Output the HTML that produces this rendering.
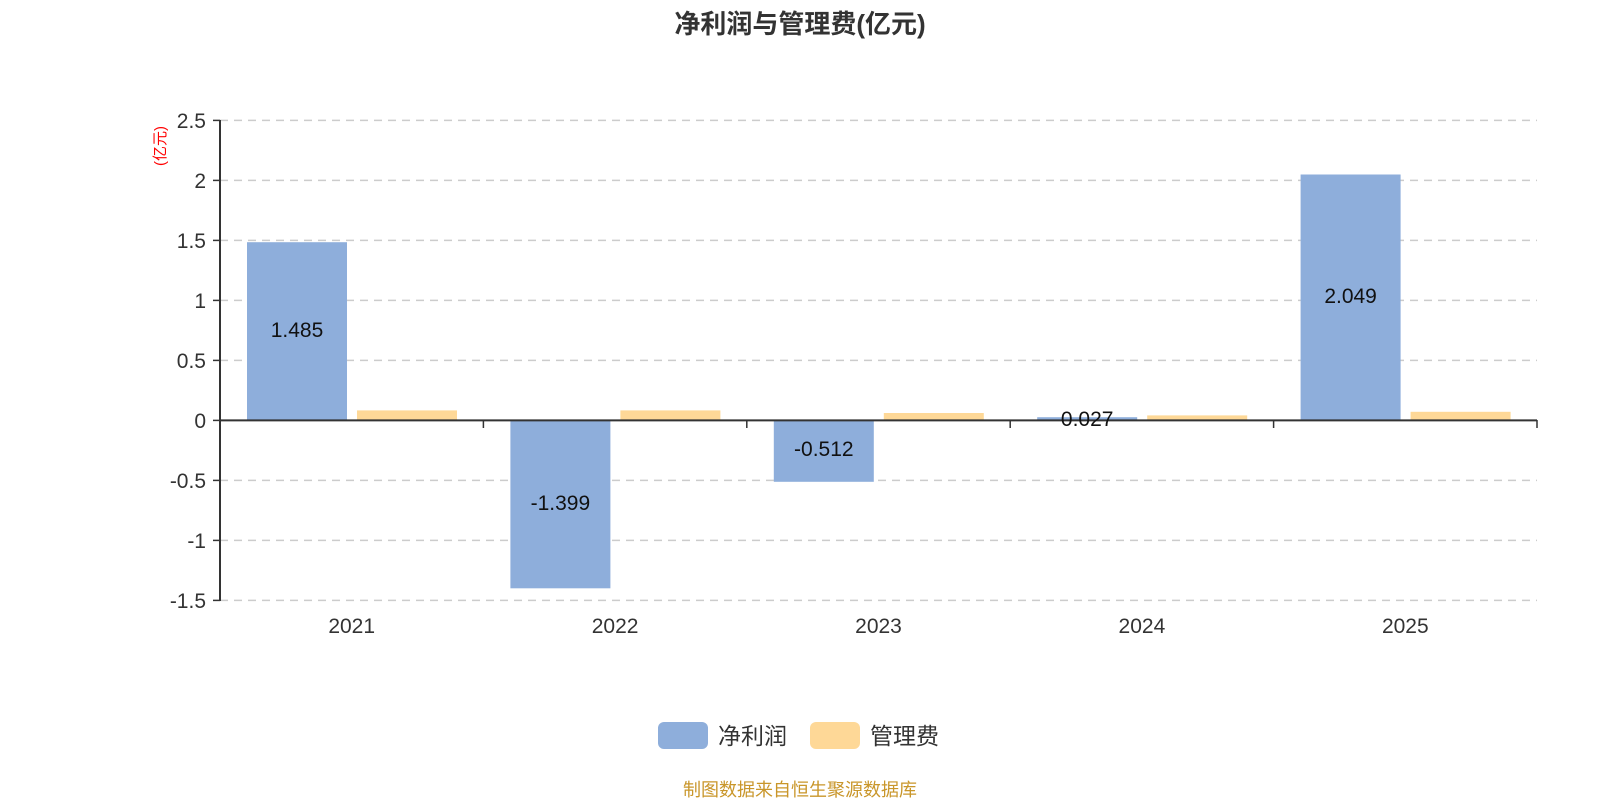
<!DOCTYPE html>
<html><head><meta charset="utf-8"><style>html,body{margin:0;padding:0;background:#fff}svg{display:block}</style></head><body>
<svg width="1600" height="800" xmlns="http://www.w3.org/2000/svg" font-family="'Liberation Sans','Noto Sans CJK SC',sans-serif">
<text x="800" y="33" text-anchor="middle" font-size="26" font-weight="bold" fill="#333">净利润与管理费(亿元)</text>
<g stroke="#ccc" stroke-width="1.5" stroke-dasharray="8,6">
<line x1="220" y1="120.4" x2="1537" y2="120.4"/><line x1="220" y1="180.4" x2="1537" y2="180.4"/><line x1="220" y1="240.4" x2="1537" y2="240.4"/><line x1="220" y1="300.4" x2="1537" y2="300.4"/><line x1="220" y1="360.4" x2="1537" y2="360.4"/><line x1="220" y1="480.4" x2="1537" y2="480.4"/><line x1="220" y1="540.4" x2="1537" y2="540.4"/><line x1="220" y1="600.4" x2="1537" y2="600.4"/>
</g>
<g fill="#8eaedb">
<rect x="247" y="242.2" width="100" height="178.2"/>
<rect x="510.4" y="420.4" width="100" height="167.9"/>
<rect x="773.8" y="420.4" width="100" height="61.4"/>
<rect x="1037.2" y="417.2" width="100" height="3.2"/>
<rect x="1300.6" y="174.5" width="100" height="245.9"/>
</g>
<g fill="#fed897">
<rect x="357" y="410.4" width="100" height="10"/>
<rect x="620.4" y="410.4" width="100" height="10"/>
<rect x="883.8" y="413" width="100" height="7.4"/>
<rect x="1147.2" y="415.4" width="100" height="5"/>
<rect x="1410.6" y="411.8" width="100" height="8.6"/>
</g>
<g stroke="#333" stroke-width="2">
<line x1="220" y1="120" x2="220" y2="601"/>
<line x1="220" y1="420.4" x2="1537" y2="420.4"/>
</g>
<g stroke="#333" stroke-width="1.5">
<line x1="213" y1="120.4" x2="220" y2="120.4"/><line x1="213" y1="180.4" x2="220" y2="180.4"/><line x1="213" y1="240.4" x2="220" y2="240.4"/><line x1="213" y1="300.4" x2="220" y2="300.4"/><line x1="213" y1="360.4" x2="220" y2="360.4"/><line x1="213" y1="420.4" x2="220" y2="420.4"/><line x1="213" y1="480.4" x2="220" y2="480.4"/><line x1="213" y1="540.4" x2="220" y2="540.4"/><line x1="213" y1="600.4" x2="220" y2="600.4"/>
<line x1="483.4" y1="420" x2="483.4" y2="428"/><line x1="746.8" y1="420" x2="746.8" y2="428"/><line x1="1010.2" y1="420" x2="1010.2" y2="428"/><line x1="1273.6" y1="420" x2="1273.6" y2="428"/><line x1="1537" y1="420" x2="1537" y2="428"/>
</g>
<g font-size="21" fill="#333" text-anchor="end">
<text x="206" y="128">2.5</text><text x="206" y="188">2</text><text x="206" y="248">1.5</text><text x="206" y="308">1</text><text x="206" y="368">0.5</text><text x="206" y="428">0</text><text x="206" y="488">-0.5</text><text x="206" y="548">-1</text><text x="206" y="608">-1.5</text>
</g>
<g font-size="21" fill="#333" text-anchor="middle">
<text x="351.7" y="633">2021</text><text x="615.1" y="633">2022</text><text x="878.5" y="633">2023</text><text x="1141.9" y="633">2024</text><text x="1405.3" y="633">2025</text>
</g>
<g font-size="21" fill="#111" text-anchor="middle">
<text x="297" y="337">1.485</text><text x="560.4" y="510">-1.399</text><text x="823.8" y="456">-0.512</text><text x="1087.2" y="426">0.027</text><text x="1350.6" y="303">2.049</text>
</g>
<text transform="translate(165,146) rotate(-90)" text-anchor="middle" font-size="15" fill="#f00">(亿元)</text>
<rect x="658" y="722" width="50" height="27" rx="6" fill="#8eaedb"/>
<text x="718" y="744" font-size="23" fill="#333">净利润</text>
<rect x="810" y="722" width="50" height="27" rx="6" fill="#fed897"/>
<text x="870" y="744" font-size="23" fill="#333">管理费</text>
<text x="800" y="796" text-anchor="middle" font-size="18" fill="#c9962a">制图数据来自恒生聚源数据库</text>
</svg>
</body></html>
